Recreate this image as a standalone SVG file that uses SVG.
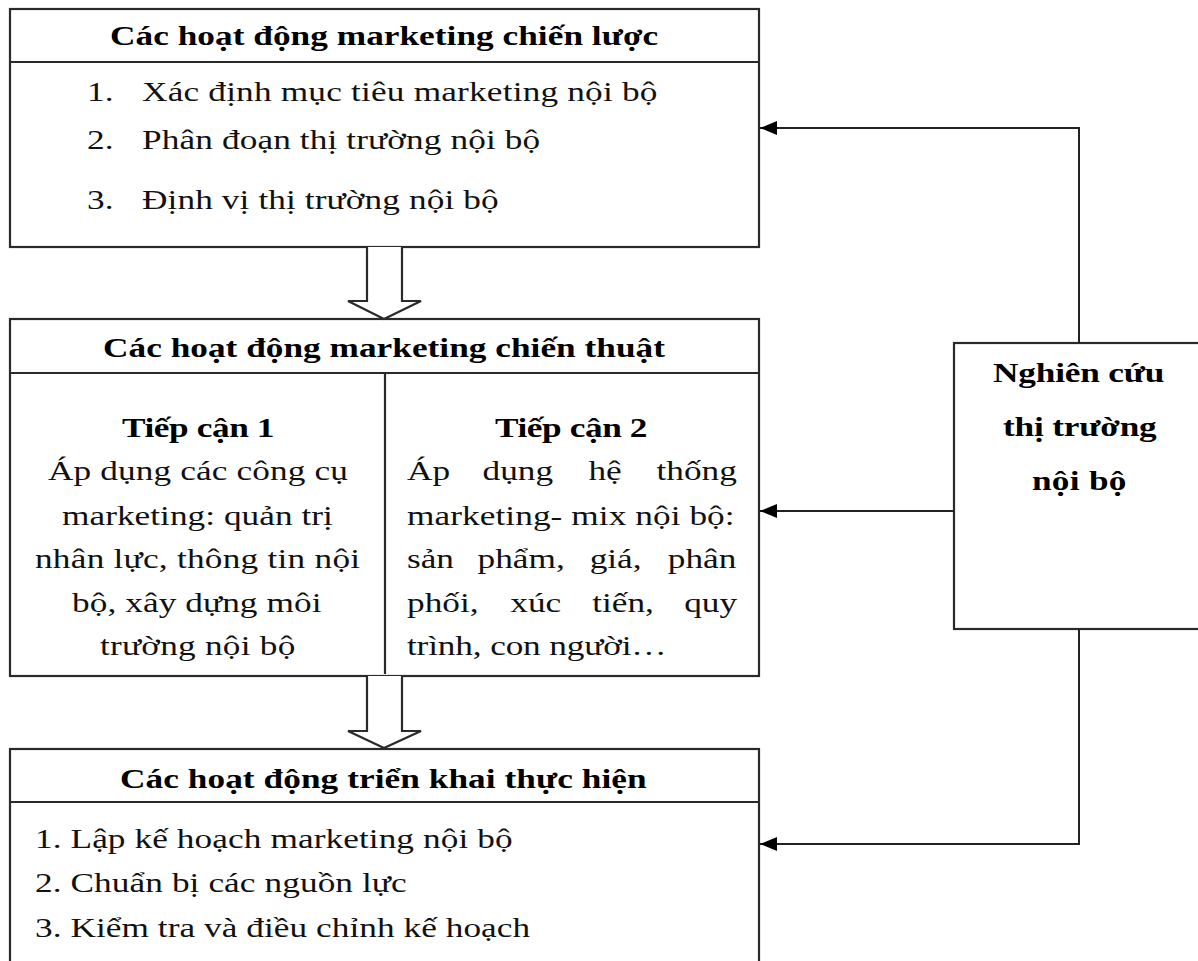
<svg xmlns="http://www.w3.org/2000/svg" width="1198" height="961" viewBox="0 0 1198 961">
<style>
.box{fill:#fff;stroke:#2a2a2a;stroke-width:2.2}
.ln{fill:none;stroke:#2a2a2a;stroke-width:2.2}
.con{fill:none;stroke:#222;stroke-width:2}
.t{font-family:"Liberation Serif","Times New Roman",serif;font-size:28px;fill:#111}
.b{font-family:"Liberation Serif","Times New Roman",serif;font-size:28px;font-weight:bold;fill:#000}
</style>
<defs>
<marker id="ah" markerWidth="18" markerHeight="14" refX="17" refY="7" orient="auto" markerUnits="userSpaceOnUse">
<path d="M0,0 L17,7 L0,14 Z" fill="#000"/>
</marker>
</defs>
<rect width="1198" height="961" fill="#fff"/>

<g id="strategic">
<rect class="box" x="10" y="9" width="749" height="238"/>
<line class="ln" x1="10" y1="62" x2="759" y2="62"/>
<text class="b" transform="translate(110,45) scale(1.26,1)" textLength="435" lengthAdjust="spacing">Các hoạt động marketing chiến lược</text>
<text class="t" transform="translate(87,101) scale(1.26,1)">1.</text>
<text class="t" transform="translate(142,101) scale(1.26,1)" textLength="409" lengthAdjust="spacing">Xác định mục tiêu marketing nội bộ</text>
<text class="t" transform="translate(87,149) scale(1.26,1)">2.</text>
<text class="t" transform="translate(142,149) scale(1.26,1)" textLength="316" lengthAdjust="spacing">Phân đoạn thị trường nội bộ</text>
<text class="t" transform="translate(87,209) scale(1.26,1)">3.</text>
<text class="t" transform="translate(142,209) scale(1.26,1)" textLength="283" lengthAdjust="spacing">Định vị thị trường nội bộ</text>
</g>

<g id="tactical">
<rect class="box" x="10" y="319" width="749" height="357"/>
<line class="ln" x1="10" y1="373" x2="759" y2="373"/>
<line class="ln" x1="385" y1="373" x2="385" y2="674"/>
<text class="b" transform="translate(103,357) scale(1.26,1)" textLength="446" lengthAdjust="spacing">Các hoạt động marketing chiến thuật</text>
<text class="b" transform="translate(122,437) scale(1.26,1)" textLength="121" lengthAdjust="spacing">Tiếp cận 1</text>
<text class="t" transform="translate(48,480) scale(1.26,1)" textLength="238" lengthAdjust="spacing">Áp dụng các công cụ</text>
<text class="t" transform="translate(62,525) scale(1.26,1)" textLength="215" lengthAdjust="spacing">marketing: quản trị</text>
<text class="t" transform="translate(35,568) scale(1.26,1)" textLength="258" lengthAdjust="spacing">nhân lực, thông tin nội</text>
<text class="t" transform="translate(72,612) scale(1.26,1)" textLength="198" lengthAdjust="spacing">bộ, xây dựng môi</text>
<text class="t" transform="translate(100,655) scale(1.26,1)" textLength="155" lengthAdjust="spacing">trường nội bộ</text>
<text class="b" transform="translate(495,437) scale(1.26,1)" textLength="121" lengthAdjust="spacing">Tiếp cận 2</text>
<text class="t" transform="translate(407,480) scale(1.26,1)"><tspan x="0">Áp</tspan><tspan x="60">dụng</tspan><tspan x="144">hệ</tspan><tspan x="198">thống</tspan></text>
<text class="t" transform="translate(407,525) scale(1.26,1)" textLength="260" lengthAdjust="spacing">marketing- mix nội bộ:</text>
<text class="t" transform="translate(407,568) scale(1.26,1)"><tspan x="0">sản</tspan><tspan x="56">phẩm,</tspan><tspan x="145">giá,</tspan><tspan x="207">phân</tspan></text>
<text class="t" transform="translate(407,612) scale(1.26,1)"><tspan x="0">phối,</tspan><tspan x="82">xúc</tspan><tspan x="147">tiến,</tspan><tspan x="220">quy</tspan></text>
<text class="t" transform="translate(407,655) scale(1.26,1)" textLength="206" lengthAdjust="spacing">trình, con người…</text>
</g>

<g id="implementation">
<rect class="box" x="10" y="749" width="749" height="230"/>
<line class="ln" x1="10" y1="802" x2="759" y2="802"/>
<text class="b" transform="translate(120,788) scale(1.26,1)" textLength="418" lengthAdjust="spacing">Các hoạt động triển khai thực hiện</text>
<text class="t" transform="translate(35,848) scale(1.26,1)" textLength="379" lengthAdjust="spacing">1. Lập kế hoạch marketing nội bộ</text>
<text class="t" transform="translate(35,892) scale(1.26,1)" textLength="295" lengthAdjust="spacing">2. Chuẩn bị các nguồn lực</text>
<text class="t" transform="translate(35,937) scale(1.26,1)" textLength="393" lengthAdjust="spacing">3. Kiểm tra và điều chỉnh kế hoạch</text>
</g>

<g id="research">
<rect class="box" x="954" y="343" width="260" height="286"/>
<text class="b" transform="translate(993,382) scale(1.26,1)" textLength="136" lengthAdjust="spacing">Nghiên cứu</text>
<text class="b" transform="translate(1003,436) scale(1.26,1)" textLength="122" lengthAdjust="spacing">thị trường</text>
<text class="b" transform="translate(1032,490) scale(1.26,1)" textLength="75" lengthAdjust="spacing">nội bộ</text>
</g>

<g id="connectors">
<path class="box" d="M367,247 L367,301 L348,301 L384,319 L421,301 L402,301 L402,247"/>
<path class="box" d="M367,676 L367,731 L348,731 L384,748 L421,731 L402,731 L402,676"/>
<path class="con" d="M1079,343 L1079,128 L760,128" marker-end="url(#ah)"/>
<path class="con" d="M954,511 L760,511" marker-end="url(#ah)"/>
<path class="con" d="M1079,629 L1079,844 L760,844" marker-end="url(#ah)"/>
</g>
</svg>
